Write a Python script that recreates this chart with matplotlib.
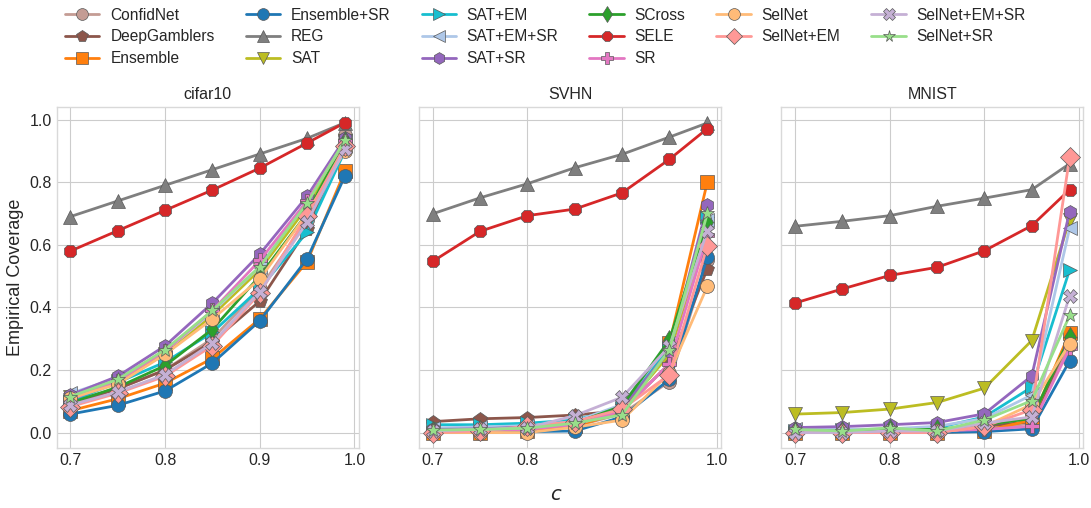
import numpy as np
import matplotlib
matplotlib.use("Agg")
import matplotlib.pyplot as plt

plt.style.use("seaborn-v0_8-whitegrid")
plt.rcParams["font.family"] = ["Liberation Sans", "DejaVu Sans"]

# Data
c_values = [0.7, 0.75, 0.8, 0.85, 0.9, 0.95, 0.99]
datasets = ["cifar10", "SVHN", "MNIST"]
methods = ["ConfidNet", "DeepGamblers", "Ensemble", "Ensemble+SR", "REG", "SAT",
           "SAT+EM", "SAT+EM+SR", "SAT+SR", "SCross", "SELE", "SR",
           "SelNet", "SelNet+EM", "SelNet+EM+SR", "SelNet+SR"]

cifar10 = {
    "ConfidNet":    [0.10, 0.14, 0.20, 0.30, 0.46, 0.68, 0.95],
    "DeepGamblers": [0.09, 0.14, 0.20, 0.29, 0.42, 0.65, 0.93],
    "Ensemble":     [0.07, 0.108, 0.158, 0.237, 0.363, 0.546, 0.835],
    "Ensemble+SR":  [0.059, 0.087, 0.133, 0.222, 0.357, 0.555, 0.82],
    "REG":          [0.69, 0.74, 0.79, 0.84, 0.89, 0.94, 0.99],
    "SAT":          [0.115, 0.165, 0.25, 0.375, 0.52, 0.72, 0.93],
    "SAT+EM":       [0.10, 0.16, 0.225, 0.32, 0.46, 0.64, 0.90],
    "SAT+EM+SR":    [0.125, 0.175, 0.26, 0.385, 0.53, 0.74, 0.93],
    "SAT+SR":       [0.12, 0.18, 0.277, 0.414, 0.57, 0.755, 0.94],
    "SCross":       [0.095, 0.145, 0.214, 0.33, 0.50, 0.70, 0.93],
    "SELE":         [0.58, 0.645, 0.71, 0.775, 0.845, 0.925, 0.99],
    "SR":           [0.105, 0.165, 0.26, 0.39, 0.55, 0.74, 0.93],
    "SelNet":       [0.11, 0.155, 0.25, 0.363, 0.49, 0.70, 0.90],
    "SelNet+EM":    [0.083, 0.126, 0.18, 0.278, 0.445, 0.693, 0.915],
    "SelNet+EM+SR": [0.088, 0.13, 0.185, 0.286, 0.45, 0.672, 0.907],
    "SelNet+SR":    [0.115, 0.17, 0.265, 0.39, 0.53, 0.733, 0.934],
}

svhn = {
    "ConfidNet":    [0.005, 0.005, 0.008, 0.02, 0.06, 0.163, 0.55],
    "DeepGamblers": [0.035, 0.044, 0.048, 0.056, 0.07, 0.22, 0.523],
    "Ensemble":     [0.0, 0.0, 0.005, 0.02, 0.065, 0.285, 0.80],
    "Ensemble+SR":  [0.0, 0.002, 0.003, 0.005, 0.05, 0.17, 0.56],
    "REG":          [0.699, 0.75, 0.795, 0.846, 0.889, 0.944, 0.989],
    "SAT":          [0.01, 0.012, 0.015, 0.025, 0.07, 0.25, 0.65],
    "SAT+EM":       [0.025, 0.025, 0.03, 0.04, 0.08, 0.27, 0.69],
    "SAT+EM+SR":    [0.015, 0.018, 0.022, 0.035, 0.09, 0.285, 0.68],
    "SAT+SR":       [0.01, 0.012, 0.018, 0.03, 0.08, 0.26, 0.726],
    "SCross":       [0.005, 0.008, 0.012, 0.03, 0.085, 0.296, 0.672],
    "SELE":         [0.547, 0.643, 0.693, 0.714, 0.766, 0.873, 0.971],
    "SR":           [0.003, 0.005, 0.01, 0.025, 0.07, 0.22, 0.63],
    "SelNet":       [0.0, 0.0, 0.0, 0.017, 0.04, 0.19, 0.467],
    "SelNet+EM":    [0.0, 0.005, 0.02, 0.035, 0.075, 0.185, 0.597],
    "SelNet+EM+SR": [0.005, 0.01, 0.015, 0.054, 0.113, 0.275, 0.645],
    "SelNet+SR":    [0.008, 0.01, 0.014, 0.03, 0.057, 0.265, 0.70],
}

mnist = {
    "ConfidNet":    [0.0, 0.0, 0.0, 0.0, 0.01, 0.03, 0.28],
    "DeepGamblers": [0.005, 0.005, 0.005, 0.005, 0.02, 0.035, 0.30],
    "Ensemble":     [0.0, 0.0, 0.0, 0.0, 0.005, 0.04, 0.318],
    "Ensemble+SR":  [0.0, 0.0, 0.0, 0.0, 0.003, 0.012, 0.229],
    "REG":          [0.659, 0.675, 0.693, 0.723, 0.749, 0.776, 0.859],
    "SAT":          [0.059, 0.064, 0.075, 0.096, 0.142, 0.294, 0.68],
    "SAT+EM":       [0.005, 0.008, 0.01, 0.015, 0.05, 0.145, 0.52],
    "SAT+EM+SR":    [0.01, 0.01, 0.012, 0.02, 0.045, 0.12, 0.653],
    "SAT+SR":       [0.016, 0.019, 0.025, 0.032, 0.06, 0.181, 0.706],
    "SCross":       [0.005, 0.005, 0.01, 0.01, 0.025, 0.045, 0.305],
    "SELE":         [0.414, 0.459, 0.502, 0.528, 0.581, 0.661, 0.776],
    "SR":           [0.0, 0.0, 0.0, 0.005, 0.01, 0.02, 0.27],
    "SelNet":       [0.0, 0.0, 0.0, 0.0, 0.02, 0.09, 0.284],
    "SelNet+EM":    [0.0, 0.0, 0.0, 0.0, 0.02, 0.073, 0.88],
    "SelNet+EM+SR": [0.0, 0.0, 0.005, 0.005, 0.03, 0.05, 0.437],
    "SelNet+SR":    [0.01, 0.005, 0.015, 0.005, 0.04, 0.102, 0.374],
}

all_data = [cifar10, svhn, mnist]

colors = ["#c49c94", "#8c564b", "#ff7f0e", "#1f77b4", "#7f7f7f", "#bcbd22",
          "#17becf", "#aec7e8", "#9467bd", "#2ca02c", "#d62728", "#e377c2",
          "#ffbb78", "#ff9896", "#c5b0d5", "#98df8a"]
markers = ["o", "p", "s", "o", "^", "v", ">", "<", "h", "d", "8", "P",
           "o", "D", "X", "*"]

fig, axes = plt.subplots(1, 3, figsize=(10.91, 5.08), dpi=100, sharey=True)
fig.subplots_adjust(left=0.052, right=0.993, top=0.789, bottom=0.118, wspace=0.2)

for ax, name, data in zip(axes, datasets, all_data):
    for m, col, mk in zip(methods, colors, markers):
        ax.plot(c_values, data[m], color=col, marker=mk, markersize=10,
                linewidth=2, markeredgecolor="0.35", markeredgewidth=0.5, label=m)
    ax.set_title(name, fontsize=11.5, pad=6)
    ax.set_xticks([0.7, 0.8, 0.9, 1.0])
    ax.set_yticks([0.0, 0.2, 0.4, 0.6, 0.8, 1.0])
    ax.tick_params(labelsize=11.5)
    for s in ax.spines.values():
        s.set_color("0.85")

axes[0].set_ylabel("Empirical Coverage", fontsize=13)
fig.text(0.51, 0.025, "$c$", fontsize=14, ha="center", va="center")

handles, labels = axes[0].get_legend_handles_labels()
fig.legend(handles, labels, loc="upper center", ncol=6, fontsize=11.2,
           frameon=False, bbox_to_anchor=(0.5, 1.012), handlelength=2.2,
           handletextpad=0.7, columnspacing=2.0, labelspacing=0.42,
           markerscale=0.85)

plt.savefig("out.png", dpi=100)
